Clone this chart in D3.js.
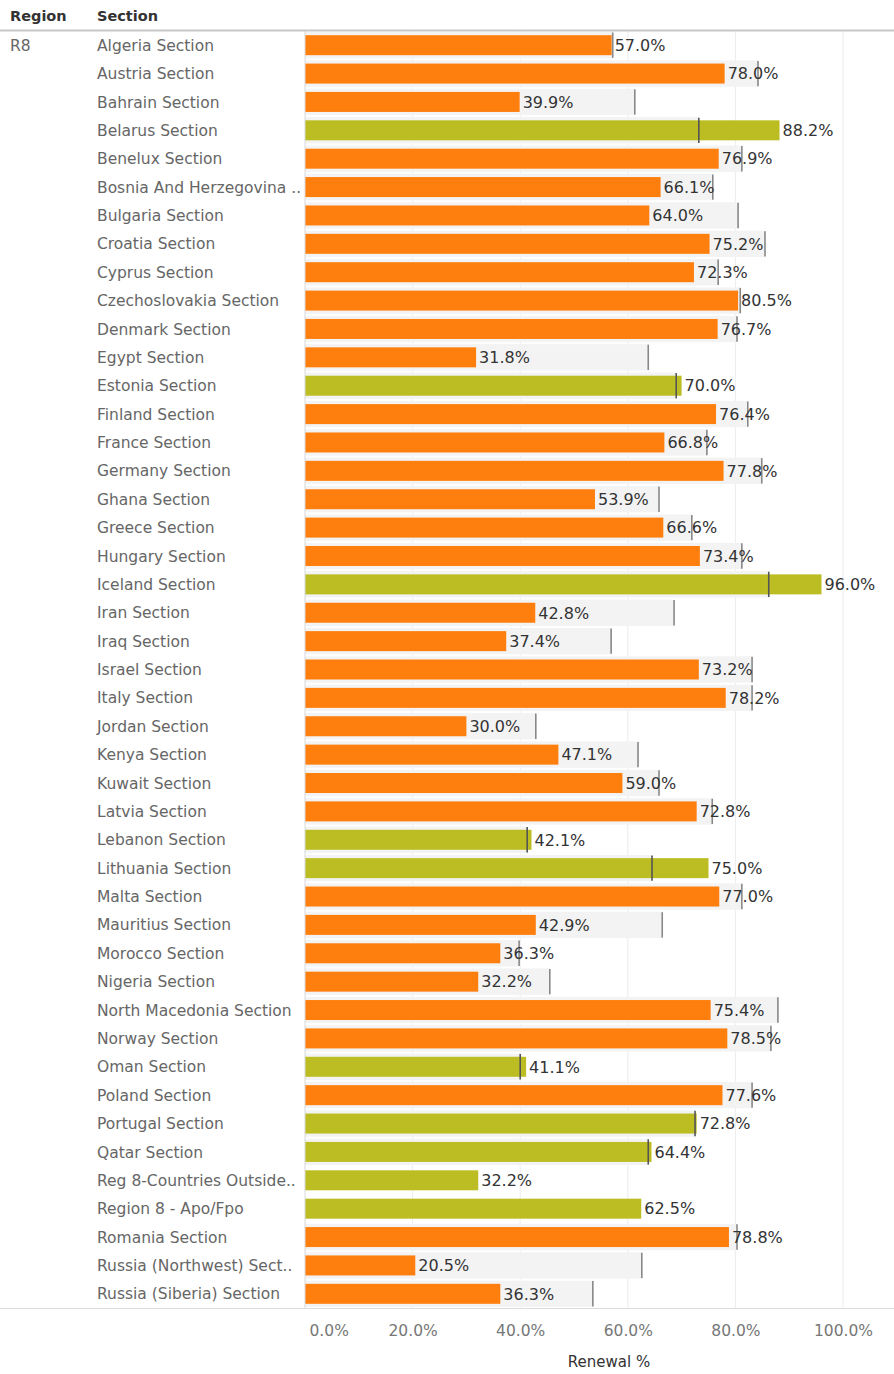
<!DOCTYPE html>
<html>
<head>
<meta charset="utf-8">
<script src="https://cdn.jsdelivr.net/npm/d3@7"></script>
<style>
  html, body { margin: 0; padding: 0; background: #fff; }
  svg { display: block; }
  text { font-family: "DejaVu Sans", "Open Sans", sans-serif; }
</style>
</head>
<body>
<svg id="chart" width="894" height="1374"></svg>
<script>
const region = "R8";
const sections = [
  "Algeria Section", "Austria Section", "Bahrain Section", "Belarus Section", "Benelux Section",
  "Bosnia And Herzegovina ..", "Bulgaria Section", "Croatia Section", "Cyprus Section", "Czechoslovakia Section",
  "Denmark Section", "Egypt Section", "Estonia Section", "Finland Section", "France Section",
  "Germany Section", "Ghana Section", "Greece Section", "Hungary Section", "Iceland Section",
  "Iran Section", "Iraq Section", "Israel Section", "Italy Section", "Jordan Section",
  "Kenya Section", "Kuwait Section", "Latvia Section", "Lebanon Section", "Lithuania Section",
  "Malta Section", "Mauritius Section", "Morocco Section", "Nigeria Section", "North Macedonia Section",
  "Norway Section", "Oman Section", "Poland Section", "Portugal Section", "Qatar Section",
  "Reg 8-Countries Outside..", "Region 8 - Apo/Fpo", "Romania Section", "Russia (Northwest) Sect..", "Russia (Siberia) Section"
];
const renewal = [
  0.570, 0.780, 0.399, 0.882, 0.769,
  0.661, 0.640, 0.752, 0.723, 0.805,
  0.767, 0.318, 0.700, 0.764, 0.668,
  0.778, 0.539, 0.666, 0.734, 0.960,
  0.428, 0.374, 0.732, 0.782, 0.300,
  0.471, 0.590, 0.728, 0.421, 0.750,
  0.770, 0.429, 0.363, 0.322, 0.754,
  0.785, 0.411, 0.776, 0.728, 0.644,
  0.322, 0.625, 0.788, 0.205, 0.363
];
const target = [
  0.572, 0.842, 0.613, 0.732, 0.812,
  0.758, 0.805, 0.855, 0.768, 0.809,
  0.803, 0.638, 0.690, 0.823, 0.747,
  0.849, 0.658, 0.719, 0.812, 0.862,
  0.686, 0.569, 0.831, 0.831, 0.429,
  0.619, 0.658, 0.757, 0.413, 0.645,
  0.812, 0.664, 0.398, 0.455, 0.879,
  0.866, 0.400, 0.831, 0.725, 0.638,
  null, null, 0.803, 0.626, 0.535
];
const met = [
  false, false, false, true, false,
  false, false, false, false, false,
  false, false, true, false, false,
  false, false, false, false, true,
  false, false, false, false, false,
  false, false, false, true, true,
  false, false, false, false, false,
  false, true, false, true, true,
  true, true, false, false, false
];
const tickValues = [0, 0.2, 0.4, 0.6, 0.8, 1.0];
const axisTitle = "Renewal %";
const headers = ["Region", "Section"];

const colorMet = "#bcbd22";
const colorMiss = "#ff7f0e";

const svg = d3.select("#chart");
const W = 894;
const plotLeft = 305, plotRight = 843;
const plotTop = 31, plotBottom = 1308;
const fs = 16;
const fsLabel = 15.5;

const x = d3.scaleLinear().domain([0, 1]).range([plotLeft, plotRight]);
const y = d3.scaleBand().domain(sections).range([plotTop, plotBottom]).paddingInner(0).paddingOuter(0);
const bw = y.bandwidth();
const barH = 20;
const bandH = bw - 2;

const rows = sections.map((s, i) => ({ s, v: renewal[i], t: target[i], met: met[i] }));

// gridlines
svg.append("g").selectAll("line").data(tickValues.slice(1)).join("line")
  .attr("x1", d => x(d)).attr("x2", d => x(d))
  .attr("y1", plotTop).attr("y2", plotBottom)
  .attr("stroke", "#ececec").attr("stroke-width", 1);

// reference bands (0 -> target)
svg.append("g").selectAll("rect").data(rows.filter(r => r.t != null)).join("rect")
  .attr("x", x(0))
  .attr("y", d => y(d.s) + (bw - bandH) / 2)
  .attr("width", d => x(d.t) - x(0))
  .attr("height", bandH)
  .attr("fill", "#f3f3f3");

// bars
svg.append("g").selectAll("rect").data(rows).join("rect")
  .attr("x", x(0))
  .attr("y", d => y(d.s) + (bw - barH) / 2)
  .attr("width", d => x(d.v) - x(0))
  .attr("height", barH)
  .attr("fill", d => d.met ? colorMet : colorMiss);

// target lines
svg.append("g").selectAll("line").data(rows.filter(r => r.t != null)).join("line")
  .attr("x1", d => x(d.t)).attr("x2", d => x(d.t))
  .attr("y1", d => y(d.s) + 1.5)
  .attr("y2", d => y(d.s) + bw - 1.5)
  .attr("stroke", d => d.met ? "#555" : "#888")
  .attr("stroke-width", 1.6);

// value labels
svg.append("g").selectAll("text").data(rows).join("text")
  .attr("x", d => x(d.v) + 3)
  .attr("y", d => y(d.s) + bw / 2)
  .attr("dy", "0.36em")
  .attr("font-size", fs)
  .attr("fill", "#333")
  .text(d => d3.format(".1%")(d.v));

// plot left axis line
svg.append("line")
  .attr("x1", plotLeft).attr("x2", plotLeft)
  .attr("y1", plotTop).attr("y2", plotBottom)
  .attr("stroke", "#d8d8d8").attr("stroke-width", 1);

// header
svg.append("text").attr("x", 10).attr("y", 21).attr("font-size", 14.5)
  .attr("font-weight", "bold").attr("fill", "#333").text(headers[0]);
svg.append("text").attr("x", 97).attr("y", 21).attr("font-size", 14.5)
  .attr("font-weight", "bold").attr("fill", "#333").text(headers[1]);
svg.append("line").attr("x1", 0).attr("x2", W).attr("y1", 30.5).attr("y2", 30.5)
  .attr("stroke", "#c8c8c8").attr("stroke-width", 2);

// region label
svg.append("text").attr("x", 10).attr("y", y(sections[0]) + bw / 2).attr("dy", "0.36em")
  .attr("font-size", fsLabel).attr("fill", "#666").text(region);

// section labels
svg.append("g").selectAll("text").data(rows).join("text")
  .attr("x", 97)
  .attr("y", d => y(d.s) + bw / 2)
  .attr("dy", "0.36em")
  .attr("font-size", fsLabel)
  .attr("fill", "#666")
  .text(d => d.s);

// bottom line
svg.append("line").attr("x1", 0).attr("x2", W).attr("y1", plotBottom + 0.5).attr("y2", plotBottom + 0.5)
  .attr("stroke", "#dcdcdc").attr("stroke-width", 1);

// x axis
const axis = d3.axisBottom(x).tickValues(tickValues).tickFormat(d3.format(".1%")).tickSize(0).tickPadding(0);
const ax = svg.append("g").attr("transform", `translate(0, ${plotBottom + 17})`).call(axis);
ax.select(".domain").remove();
ax.selectAll("text").attr("font-size", 15.5).attr("fill", "#777")
  .attr("font-family", "\"DejaVu Sans\", sans-serif");
ax.selectAll(".tick").filter(d => d === 0).select("text").attr("text-anchor", "start").attr("x", 4);

svg.append("text").attr("x", 609).attr("y", 1367)
  .attr("text-anchor", "middle").attr("font-size", 15).attr("fill", "#333")
  .text(axisTitle);
</script>
</body>
</html>
